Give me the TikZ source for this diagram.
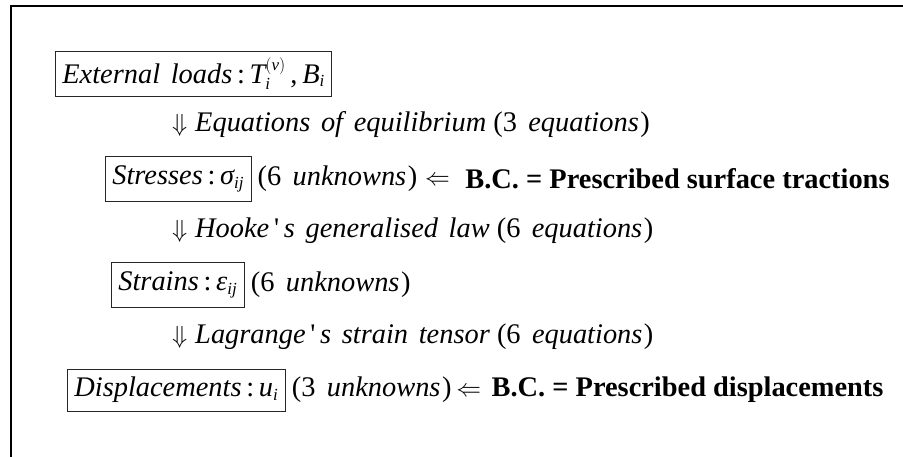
\documentclass[tikz,border=0pt]{standalone}
\usepackage{amsmath}
\usepackage{fontspec}
\setmainfont{Liberation Serif}[Ligatures=TeXOff, ItalicFeatures={WordSpace=1.5}]
\DeclareMathSizes{28.5}{26}{17}{13}
\usetikzlibrary{positioning}
\newcommand{\mi}[1]{\textit{#1}}
\newcommand{\dn}{$\Downarrow$\;}
\newcommand{\lf}[1]{\hspace{#1}$\Leftarrow$}
\newcommand{\cnt}[2]{(#1\hspace{0.4em}\mi{#2}\/\hspace{1.5bp})}

\begin{document}
\begin{tikzpicture}[
  x=1bp, y=-1bp,
  font=\fontsize{28.5}{34}\selectfont,
  qbox/.style={draw=black!85, line width=0.8bp, anchor=west, inner xsep=7bp,
    inner ysep=0pt, minimum height=45bp},
  qtext/.style={anchor=west, inner sep=0pt},
  bcnote/.style={anchor=west, inner sep=0pt, font=\fontsize{28.5}{34}\selectfont\bfseries}
]
\useasboundingbox (0,0) rectangle (903,457);
% frame (top and left only)
\draw[line width=2bp] (10.5,457) -- (10.5,6) -- (903,6);
% quantities
\node[qbox] (loads) at (55,73.5)
  {\mi{External loads}\,:\,$\mi{T}_{\mi{i}}^{(\mi{v})}$\,,\,$\mi{B}_{\mi{i}}$};
\node[qbox] (stress) at (105,179)
  {\mi{Stresses}\,:\,$\mi{σ}_{\mi{ij}}$};
\node[qbox] (strain) at (111,285)
  {\mi{Strains}\,:\,$\mi{ε}_{\mi{ij}}$};
\node[qbox,minimum height=42bp] (disp) at (67,390)
  {\mi{Displacements}\,:\,$\mi{u}_{\mi{i}}$};
% relations between them
\node[qtext] (equil) at (172,125)
  {\dn\mi{Equations of equilibrium} \cnt{3}{equations}};
\node[qtext] (hooke) at (172,231)
  {\dn\mi{Hooke}\,'\,\mi{s generalised law} \cnt{6}{equations}};
\node[qtext] (lagr) at (172,337)
  {\dn\mi{Lagrange}\,'\,\mi{s strain tensor} \cnt{6}{equations}};
% unknowns and boundary conditions
\node[qtext,right=6bp of stress] (stressU) {\cnt{6}{unknowns}\lf{8bp}};
\node[bcnote,right=15bp of stressU] (stressBC) {B.C. = Prescribed surface tractions};
\node[qtext,right=6bp of strain] (strainU) {\cnt{6}{unknowns}};
\node[qtext,right=6bp of disp] (dispU) {\cnt{3}{unknowns}\lf{5bp}};
\node[bcnote,right=10bp of dispU] (dispBC) {B.C. = Prescribed displacements};
\end{tikzpicture}
\end{document}
